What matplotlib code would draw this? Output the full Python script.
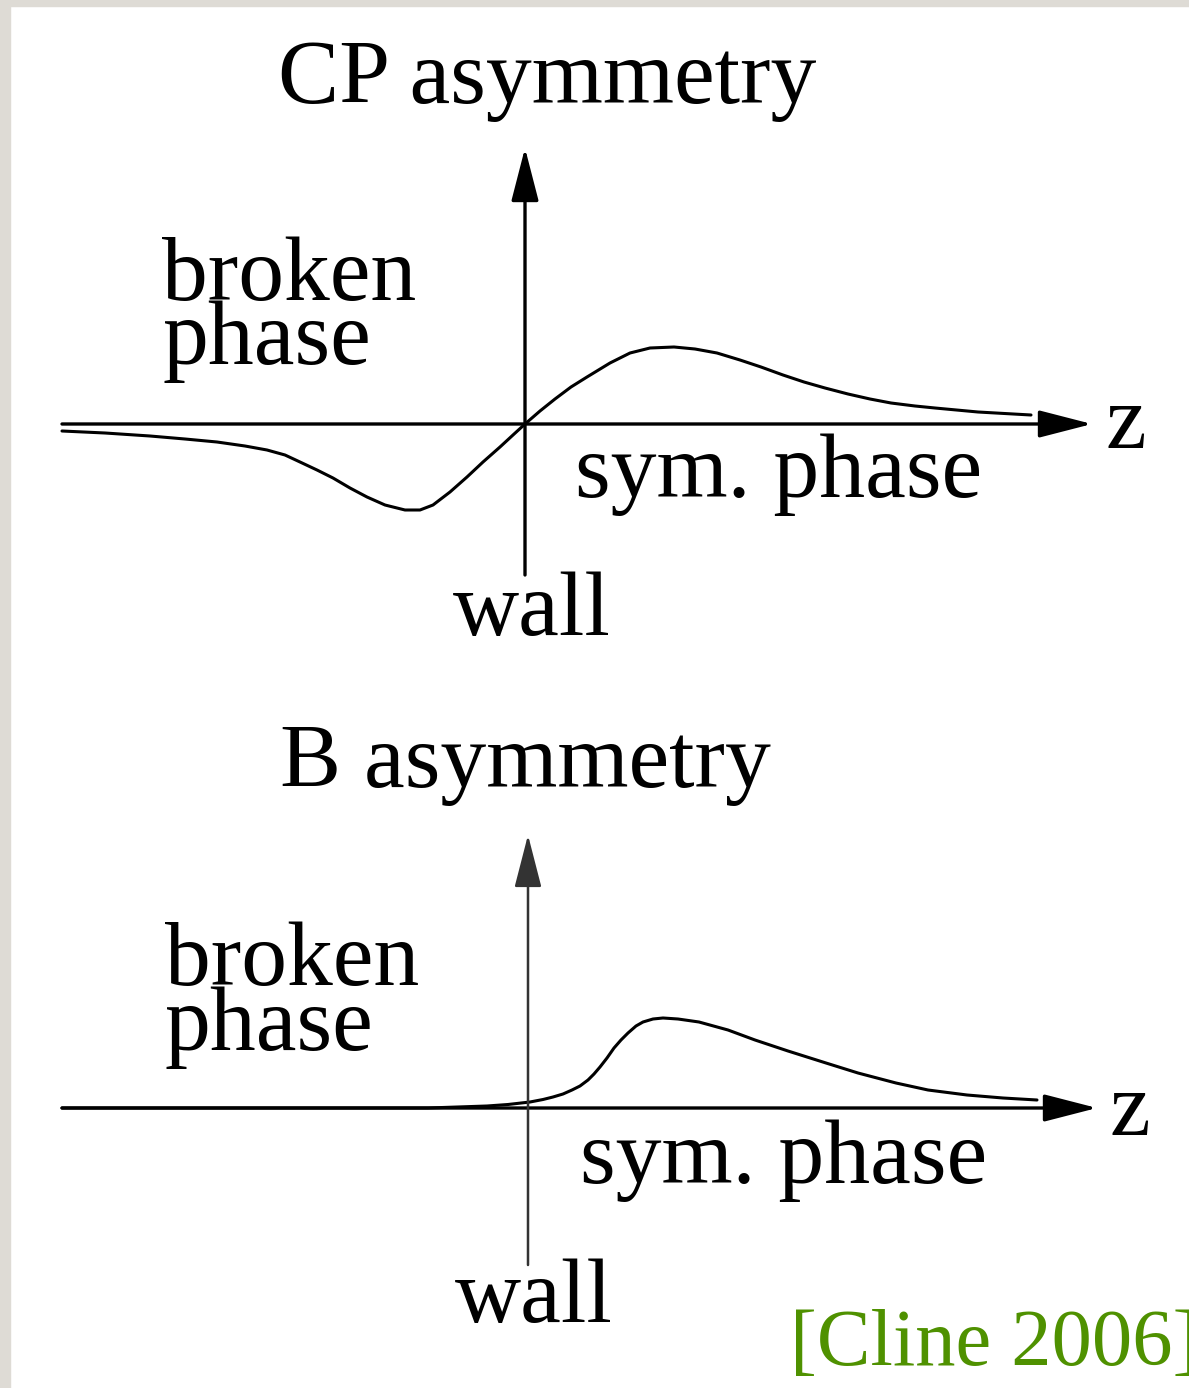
import numpy as np
import matplotlib
matplotlib.use("Agg")
import matplotlib.pyplot as plt
from matplotlib.patches import Rectangle

plt.rcParams['font.family'] = ['Liberation Serif', 'DejaVu Serif']

# CP asymmetry profile across the wall (z = 0 is the wall)
z_cp = [-4.63, -4.20, -3.75, -3.40, -3.08, -2.80, -2.58, -2.40, -2.25, -2.08, -1.92,
        -1.75, -1.58, -1.40, -1.20, -1.05, -0.92, -0.75, -0.58, -0.42, -0.25, -0.12,
        0.0, 0.15, 0.30, 0.46, 0.62, 0.85, 1.05, 1.25, 1.49, 1.70, 1.92, 2.15, 2.36,
        2.58, 2.79, 3.00, 3.23, 3.45, 3.66, 3.90, 4.10, 4.53, 5.06]
a_cp = [-0.07, -0.09, -0.12, -0.15, -0.18, -0.22, -0.26, -0.31, -0.38, -0.46, -0.54,
        -0.64, -0.73, -0.81, -0.86, -0.86, -0.81, -0.68, -0.53, -0.38, -0.23, -0.11,
        0.0, 0.13, 0.25, 0.37, 0.47, 0.61, 0.71, 0.76, 0.77, 0.75, 0.71, 0.64, 0.57,
        0.49, 0.42, 0.36, 0.30, 0.25, 0.21, 0.18, 0.16, 0.12, 0.09]

# baryon asymmetry profile
z_b = [-4.66, -1.00, -0.41, -0.20, 0.02, 0.15, 0.25, 0.35, 0.44, 0.52, 0.60, 0.66,
       0.72, 0.79, 0.86, 0.93, 1.00, 1.08, 1.15, 1.25, 1.35, 1.50, 1.71, 2.00, 2.27,
       2.60, 2.98, 3.30, 3.68, 4.00, 4.39, 4.75, 5.09]
a_b = [0.0, 0.0, 0.02, 0.035, 0.06, 0.085, 0.11, 0.14, 0.18, 0.22, 0.28, 0.34,
       0.41, 0.50, 0.60, 0.68, 0.75, 0.82, 0.86, 0.89, 0.90, 0.89, 0.86, 0.78, 0.68,
       0.57, 0.45, 0.35, 0.25, 0.18, 0.13, 0.10, 0.08]

titles = ["CP asymmetry", "B asymmetry"]
fs = 66

fig = plt.figure(figsize=(11.89, 13.88), dpi=100)
fig.patch.set_facecolor('white')
fig.add_artist(Rectangle((0, 0), 10 / 1189, 1, transform=fig.transFigure,
                         color='#dedbd5', zorder=0))
fig.add_artist(Rectangle((0, 1 - 6 / 1388), 1, 6 / 1388, transform=fig.transFigure,
                         color='#dedbd5', zorder=0))

ax1 = fig.add_axes([0, 0.5, 1, 0.5])
ax1.set_xlim(-5.25, 6.64)
ax1.set_ylim(-2.70, 4.24)
ax2 = fig.add_axes([0, 0, 1, 0.5])
ax2.set_xlim(-5.28, 6.61)
ax2.set_ylim(-2.80, 4.14)

def arrow(ax, start, tip, lw, color):
    ax.annotate("", xy=tip, xytext=start,
                arrowprops=dict(arrowstyle="-|>,head_length=3.3,head_width=0.85",
                                mutation_scale=10, lw=lw, color=color,
                                shrinkA=0, shrinkB=0))

# top panel
arrow(ax1, (-4.63, 0), (5.67, 0), 2.4, 'black')
arrow(ax1, (0, -1.51), (0, 2.76), 2.4, 'black')
ax1.plot(z_cp, a_cp, color='black', lw=2.2, solid_capstyle='round', solid_joinstyle='round')
ax1.text(-2.47, 3.21, titles[0], fontsize=fs, va='baseline')
ax1.text(-3.63, 1.24, "broken", fontsize=fs, va='baseline')
ax1.text(-3.63, 0.60, "phase", fontsize=fs, va='baseline')
ax1.text(0.50, -0.73, "sym. phase", fontsize=fs, va='baseline')
ax1.text(-0.72, -2.11, "wall", fontsize=fs, va='baseline')
ax1.text(5.80, -0.24, "z", fontsize=fs, va='baseline')

# bottom panel
arrow(ax2, (-4.66, 0), (5.69, 0), 2.4, 'black')
arrow(ax2, (0, -1.57), (0, 2.73), 1.8, '#333333')
ax2.plot(z_b, a_b, color='black', lw=2.2, solid_capstyle='round', solid_joinstyle='round')
ax2.text(-2.48, 3.21, titles[1], fontsize=fs, va='baseline')
ax2.text(-3.63, 1.23, "broken", fontsize=fs, va='baseline')
ax2.text(-3.63, 0.58, "phase", fontsize=fs, va='baseline')
ax2.text(0.52, -0.75, "sym. phase", fontsize=fs, va='baseline')
ax2.text(-0.73, -2.14, "wall", fontsize=fs, va='baseline')
ax2.text(5.82, -0.27, "z", fontsize=fs, va='baseline')
ax2.text(2.62, -2.57, "[Cline 2006]", fontsize=58, va='baseline', color='#4f9100')

for ax in [ax1, ax2]:
    ax.axis('off')
    ax.patch.set_alpha(0)

plt.savefig("out.png", dpi=100, facecolor='white')
plt.close()
